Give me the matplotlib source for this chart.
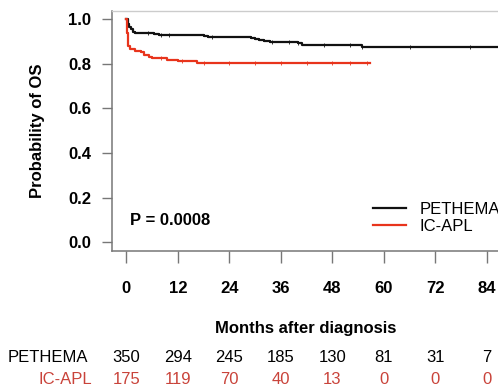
import matplotlib
matplotlib.use("Agg")
import matplotlib.pyplot as plt
from matplotlib.transforms import blended_transform_factory

plt.rcParams['font.family'] = ['Liberation Sans', 'DejaVu Sans']

# ---- data ----
peth_t = [0, 0.3, 0.6, 1.0, 1.5, 2.0, 4.5, 6.5, 7.5, 18.0, 19.0, 20.0, 29.0, 30.0, 31.0, 32.0, 33.5, 40.0, 41.0, 55.0, 95.0]
peth_s = [1.0, 0.98, 0.965, 0.955, 0.945, 0.94, 0.938, 0.934, 0.930, 0.927, 0.923, 0.920, 0.916, 0.912, 0.907, 0.903, 0.900, 0.893, 0.886, 0.876, 0.876]
icapl_t = [0, 0.2, 0.4, 0.9, 2.0, 3.3, 4.2, 5.2, 6.0, 9.5, 12.0, 16.5, 56.7]
icapl_s = [1.0, 0.94, 0.882, 0.867, 0.86, 0.852, 0.841, 0.832, 0.825, 0.816, 0.811, 0.804, 0.804]

peth_cens = [5, 8, 10, 20, 34, 38, 40, 46, 52, 55, 66, 80]
icapl_cens = [8, 13, 18, 24, 30, 36, 42, 48, 52, 56]

groups = ["PETHEMA", "IC-APL"]
x_ticks = [0, 12, 24, 36, 48, 60, 72, 84]
y_ticks = [0.0, 0.2, 0.4, 0.6, 0.8, 1.0]
risk_peth = [350, 294, 245, 185, 130, 81, 31, 7]
risk_icapl = [175, 119, 70, 40, 13, 0, 0, 0]
p_text = "P = 0.0008"

BLACK = "#111111"
RED = "#e8341c"
RED_TXT = "#c9433a"
W, H = 498, 386
FS = 12

fig = plt.figure(figsize=(W / 100, H / 100), dpi=100)
ax = fig.add_axes([112 / W, 1 - 251 / H, 389.3 / W, 240.5 / H])

def surv_at(ts, ss, t):
    v = ss[0]
    for ti, si in zip(ts, ss):
        if ti <= t:
            v = si
    return v

ax.step(peth_t, peth_s, where='post', color=BLACK, lw=1.6, label=groups[0])
ax.step(icapl_t, icapl_s, where='post', color=RED, lw=1.6, label=groups[1])
ax.plot(peth_cens, [surv_at(peth_t, peth_s, t) for t in peth_cens], ls='none',
        marker='|', ms=2.5, mew=0.6, color=BLACK)
ax.plot(icapl_cens, [surv_at(icapl_t, icapl_s, t) for t in icapl_cens], ls='none',
        marker='|', ms=2.5, mew=0.6, color=RED)

ax.set_xlim(-3.36, 87.36)
ax.set_ylim(-0.04, 1.04)
ax.set_xticks(x_ticks)
ax.set_yticks(y_ticks)
ax.set_xticklabels([str(v) for v in x_ticks], fontweight='bold', fontsize=FS)
ax.set_yticklabels([f"{v:.1f}" for v in y_ticks], fontweight='bold', fontsize=FS)
ax.tick_params(axis='x', length=8.5, width=1, color='#777777', pad=13)
ax.tick_params(axis='y', length=7, width=1, color='#777777', pad=8)

for side in ['left', 'bottom']:
    ax.spines[side].set_color('#777777')
    ax.spines[side].set_linewidth(1.1)
for side in ['top', 'right']:
    ax.spines[side].set_color('#cccccc')
    ax.spines[side].set_linewidth(1.0)

ax.set_ylabel("Probability of OS", fontweight='bold', fontsize=FS)
ax.yaxis.set_label_coords(-0.172, 0.5)

ax.text(0.9, 0.096, p_text, fontweight='bold', fontsize=FS, ha='left', va='center')

ax.legend(loc='upper left', bbox_to_anchor=(373 / W, 1 - 202 / H), bbox_transform=fig.transFigure,
          frameon=False, fontsize=FS, handlelength=2.0, handletextpad=0.8,
          labelspacing=0.1, borderpad=0, borderaxespad=0)

fig.text(306 / W, 1 - 329 / H, "Months after diagnosis", fontweight='bold', fontsize=FS,
         ha='center', va='center')

tr = blended_transform_factory(ax.transData, fig.transFigure)
y1 = 1 - 358 / H
y2 = 1 - 379 / H
fig.text(8 / W, y1, groups[0], fontsize=FS, ha='left', va='center', color='black')
fig.text(92 / W, y2, groups[1], fontsize=FS, ha='right', va='center', color=RED_TXT)
for x, a, b in zip(x_ticks, risk_peth, risk_icapl):
    ax.text(x, y1, str(a), transform=tr, fontsize=FS, ha='center', va='center', color='black', clip_on=False)
    ax.text(x, y2, str(b), transform=tr, fontsize=FS, ha='center', va='center', color=RED_TXT, clip_on=False)

fig.savefig("out.png", dpi=100)
